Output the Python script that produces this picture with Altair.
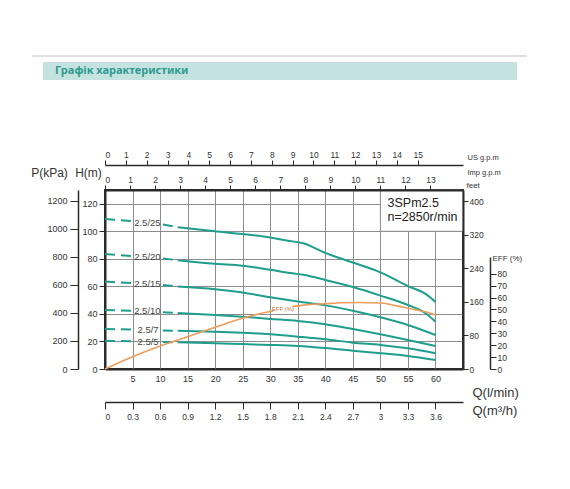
import altair as alt
import pandas as pd

# ---------------- data ----------------
Q_MAX = 65.0      # l/min at right border
H_MAX = 130.0     # m at top border

curve_names = ["2.5/25", "2.5/20", "2.5/15", "2.5/10", "2.5/7", "2.5/5"]

# dashed (extrapolated) start of each curve
dash_q = [0, 5, 10.5, 13.2]
dash_h = {
    "2.5/25": [109, 107.3, 105, 103],
    "2.5/20": [83.6, 82, 80.3, 79],
    "2.5/15": [63.5, 62.3, 61, 60],
    "2.5/10": [42.9, 42.2, 41.2, 40.7],
    "2.5/7": [29.1, 28.6, 28.0, 27.8],
    "2.5/5": [20.6, 20.1, 19.6, 19.4],
}
# solid part of each curve
solid_q = {
    "2.5/25": [13.2, 20, 25, 30, 33, 36, 40, 45, 50, 55, 58.4, 60],
    "2.5/20": [13.2, 20, 25, 30, 34, 36, 40, 45, 50, 55, 58, 60],
    "2.5/15": [13.2, 20, 25, 30, 35, 40, 45, 50, 55, 60],
    "2.5/10": [13.2, 20, 25, 30, 35, 40, 45, 50, 55, 60],
    "2.5/7": [13.2, 20, 25, 30, 35, 40, 45, 50, 55, 60],
    "2.5/5": [13.2, 20, 25, 30, 35, 40, 45, 50, 55, 60],
}
solid_h = {
    "2.5/25": [103, 100, 98, 95.5, 93.3, 91.3, 84.3, 77.3, 70.2, 60.2, 54, 48.7],
    "2.5/20": [79, 76.4, 75, 72, 69.5, 68.4, 64.7, 59.5, 53.3, 46.5, 41, 34.4],
    "2.5/15": [60, 58, 55.5, 52.1, 49, 46.2, 42.3, 37.6, 32, 24.7],
    "2.5/10": [40.7, 39.3, 38, 36.4, 34.9, 32.5, 29, 25.2, 21.1, 16.7],
    "2.5/7": [27.8, 27.1, 26.3, 25.2, 23.5, 21.6, 19.1, 17.5, 15, 11.4],
    "2.5/5": [19.4, 18.7, 18.1, 17.5, 16.7, 15.2, 13.3, 11.4, 9.5, 6.5],
}
label_q = [5.3, 5.3, 5.3, 5.3, 5.9, 5.9]
label_h = [106.3, 81.3, 61.8, 41.8, 28.3, 19.9]

# efficiency curve (%), broken where its label sits
eff_q_a = [0, 5, 10, 15, 20, 25, 30, 30.5]
eff_v_a = [0, 10.3, 19.3, 27.1, 35, 42.6, 48.2, 48.6]
eff_q_b = [34, 37, 40, 43, 46, 50, 53, 55, 58, 60]
eff_v_b = [52.5, 54, 54.8, 55.6, 55.8, 55.4, 53, 51, 48.2, 45.4]

# tick values of the axes
q_ticks = [5, 10, 15, 20, 25, 30, 35, 40, 45, 50, 55, 60]
h_ticks = [0, 20, 40, 60, 80, 100, 120]
p_ticks = [0, 200, 400, 600, 800, 1000, 1200]
feet_ticks = [0, 80, 160, 240, 320, 400]
eff_ticks = [0, 10, 20, 30, 40, 50, 60, 70, 80]
us_ticks = list(range(16))
imp_ticks = list(range(14))
m3h_ticks = [0, 0.3, 0.6, 0.9, 1.2, 1.5, 1.8, 2.1, 2.4, 2.7, 3, 3.3, 3.6]

# unit conversions for the secondary scales
P_MAX = H_MAX * 9.807
FT_MAX = H_MAX * 3.2808
US_MAX = Q_MAX / 3.785
IMP_MAX = Q_MAX / 4.546
M3H_MAX = Q_MAX * 0.06

# ---------------- tables ----------------
dash_rows = []
for c in curve_names:
    for i, (q, h) in enumerate(zip(dash_q, dash_h[c])):
        dash_rows.append({"q": q, "h": h, "seg": c + ("a" if i < 2 else "b")})
dash_df = pd.DataFrame(dash_rows)

solid_rows = []
for c in curve_names:
    for q, h in zip(solid_q[c], solid_h[c]):
        solid_rows.append({"q": q, "h": h, "curve": c})
solid_df = pd.DataFrame(solid_rows)

label_df = pd.DataFrame({"q": label_q, "h": label_h, "t": curve_names})

eff_df = pd.DataFrame(
    [{"q": q, "e": v, "seg": "a"} for q, v in zip(eff_q_a, eff_v_a)]
    + [{"q": q, "e": v, "seg": "b"} for q, v in zip(eff_q_b, eff_v_b)]
)

TEAL = "#1f9e8e"
ORANGE = "#ef9d5c"
INK = "#2b2b2b"
FONT = "Liberation Sans"

xs = alt.Scale(domain=[0, Q_MAX], nice=False, zero=False)
ys = alt.Scale(domain=[0, H_MAX], nice=False)

X = alt.X("q:Q", scale=xs, axis=alt.Axis(
    orient="bottom", values=q_ticks, grid=True, gridColor="#8c8c8c", gridWidth=1,
    ticks=False, tickSize=0, labelPadding=5, labelFontSize=9,
    domainColor=INK, domainWidth=2,
    title="Q(l/min)", titleX=367, titleY=23, titleAlign="left", titleAngle=0,
    titleBaseline="middle", titleFontSize=13, titleFontWeight="normal"))
Y = alt.Y("h:Q", scale=ys, axis=alt.Axis(
    orient="left", values=h_ticks, format="d", grid=True, gridColor="#8c8c8c", gridWidth=1,
    tickSize=6, labelPadding=2, labelFontSize=9, domainColor=INK, domainWidth=2,
    title="H(m)", titleX=-17, titleY=-18, titleAngle=0, titleAlign="center",
    titleBaseline="middle", titleFontSize=12, titleFontWeight="normal"))

box_df = pd.DataFrame({"q": [50], "q2": [Q_MAX], "h": [100], "h2": [H_MAX]})
box = alt.Chart(box_df).mark_rect(fill="white", stroke="#8c8c8c", strokeWidth=1).encode(
    x=X, x2="q2:Q", y=Y, y2="h2:Q")

dashes = alt.Chart(dash_df).mark_line(color=TEAL, strokeWidth=2, strokeDash=[10, 6]).encode(
    x=X, y=Y, detail="seg:N")
solids = alt.Chart(solid_df).mark_line(color=TEAL, strokeWidth=2, interpolate="monotone").encode(
    x=X, y=Y, detail="curve:N")
labels = alt.Chart(label_df).mark_text(
    align="left", baseline="middle", fontSize=9.5, color="#444", font=FONT).encode(
    x=X, y=Y, text="t:N")

info_df = pd.DataFrame({"q": [51.3, 51.3], "h": [120.7, 110.5],
                        "t": ["3SPm2.5", "n=2850r/min"]})
info = alt.Chart(info_df).mark_text(
    align="left", baseline="middle", fontSize=12.5, color="#222", font=FONT).encode(
    x=X, y=Y, text="t:N")

main = alt.layer(box, dashes, solids, labels, info)

# efficiency layer with its own axis
EX = alt.X("q:Q", scale=xs, axis=None)
EY = alt.Y("e:Q", scale=alt.Scale(domain=[0, 94], range=[179, 67], nice=False),
           axis=alt.Axis(orient="right", offset=27, values=eff_ticks, format="d", tickSize=6,
                         labelPadding=1, labelFontSize=8.5, domainColor=INK, domainWidth=1.5,
                         grid=False, title="EFF (%)", titleX=2, titleY=68,
                         titleAngle=0, titleAlign="left", titleBaseline="middle",
                         titleFontSize=8, titleFontWeight="normal"))
eff_line = alt.Chart(eff_df).mark_line(color=ORANGE, strokeWidth=1.6, interpolate="monotone").encode(
    x=EX, y=EY, detail="seg:N")
eff_lbl = alt.Chart(pd.DataFrame({"q": [32.3], "e": [50.5], "t": ["EFF (%)"]})).mark_text(
    fontSize=6, color="#c0703a", font=FONT, baseline="middle").encode(x=EX, y=EY, text="t:N")
eff = alt.layer(eff_line, eff_lbl)

# secondary axes
p_layer = alt.Chart(pd.DataFrame({"p": p_ticks})).mark_point(opacity=0).encode(
    y=alt.Y("p:Q", scale=alt.Scale(domain=[0, P_MAX], nice=False),
            axis=alt.Axis(orient="left", offset=27, values=p_ticks, format="d", tickSize=8,
                          labelPadding=3, labelFontSize=9, grid=False,
                          domainColor=INK, domainWidth=1.5,
                          title="P(kPa)", titleX=-29, titleY=-18, titleAngle=0,
                          titleAlign="center", titleBaseline="middle",
                          titleFontSize=12, titleFontWeight="normal")))
feet_layer = alt.Chart(pd.DataFrame({"f": feet_ticks})).mark_point(opacity=0).encode(
    y=alt.Y("f:Q", scale=alt.Scale(domain=[0, FT_MAX], nice=False),
            axis=alt.Axis(orient="right", values=feet_ticks, format="d", tickSize=5,
                          labelPadding=1, labelFontSize=8.5, grid=False, zindex=1,
                          domainColor=INK, domainWidth=2,
                          title="feet", titleX=3, titleY=-5, titleAngle=0,
                          titleAlign="left", titleBaseline="middle",
                          titleFontSize=8, titleFontWeight="normal")))
us_layer = alt.Chart(pd.DataFrame({"u": us_ticks})).mark_point(opacity=0).encode(
    x=alt.X("u:Q", scale=alt.Scale(domain=[0, US_MAX], nice=False, zero=False),
            axis=alt.Axis(orient="top", offset=25, values=us_ticks, format="d", tickSize=5,
                          labelPadding=1, labelFontSize=8.5, grid=False,
                          domainColor=INK, domainWidth=1.5,
                          title="US g.p.m", titleX=362, titleY=-8, titleAngle=0,
                          titleAlign="left", titleBaseline="middle",
                          titleFontSize=7.5, titleFontWeight="normal")))
imp_layer = alt.Chart(pd.DataFrame({"i": imp_ticks})).mark_point(opacity=0).encode(
    x=alt.X("i:Q", scale=alt.Scale(domain=[0, IMP_MAX], nice=False, zero=False),
            axis=alt.Axis(orient="top", values=imp_ticks, format="d", tickSize=5, zindex=1,
                          labelPadding=1, labelFontSize=8.5, grid=False,
                          domainColor=INK, domainWidth=2,
                          title="Imp g.p.m", titleX=362, titleY=-18, titleAngle=0,
                          titleAlign="left", titleBaseline="middle",
                          titleFontSize=7.5, titleFontWeight="normal")))
m3h_layer = alt.Chart(pd.DataFrame({"m": m3h_ticks})).mark_point(opacity=0).encode(
    x=alt.X("m:Q", scale=alt.Scale(domain=[0, M3H_MAX], nice=False, zero=False),
            axis=alt.Axis(orient="bottom", offset=33, values=m3h_ticks, format="~g",
                          tickSize=7, labelPadding=3, labelFontSize=8.5, grid=False,
                          domainColor=INK, domainWidth=1.5,
                          title="Q(m³/h)", titleX=367, titleY=8, titleAngle=0,
                          titleAlign="left", titleBaseline="middle",
                          titleFontSize=13, titleFontWeight="normal")))

# heading decoration
one = pd.DataFrame({"a": [0]})
head_line = alt.Chart(one).mark_rule(color="#e2dede", strokeWidth=2).encode(
    x=alt.value(-73), x2=alt.value(422), y=alt.value(-134))
head_bar = alt.Chart(one).mark_rect(color="#c4e2e0").encode(
    x=alt.value(-62), x2=alt.value(412), y=alt.value(-128), y2=alt.value(-110))
head_txt = alt.Chart(one).mark_text(
    text="Графік характеристики", align="left", baseline="middle", fontSize=11,
    fontWeight="bold", color="#2f9a90", font="Noto Sans").encode(
    x=alt.value(-50), y=alt.value(-119))

chart = alt.layer(
    head_line, head_bar, head_txt,
    main, eff, p_layer, feet_layer, us_layer, imp_layer, m3h_layer,
).resolve_scale(x="independent", y="independent").properties(
    width=358, height=179,
    autosize=alt.AutoSizeParams(type="none"),
    padding={"left": 97, "top": 182, "right": 99, "bottom": 112},
).configure_view(stroke=INK, strokeWidth=2).configure_axis(
    labelFont=FONT, titleFont=FONT, labelColor="#333", titleColor="#333",
    tickColor=INK, tickWidth=1,
)

chart.save("out.html", embed_options={"renderer": "svg", "actions": False})
